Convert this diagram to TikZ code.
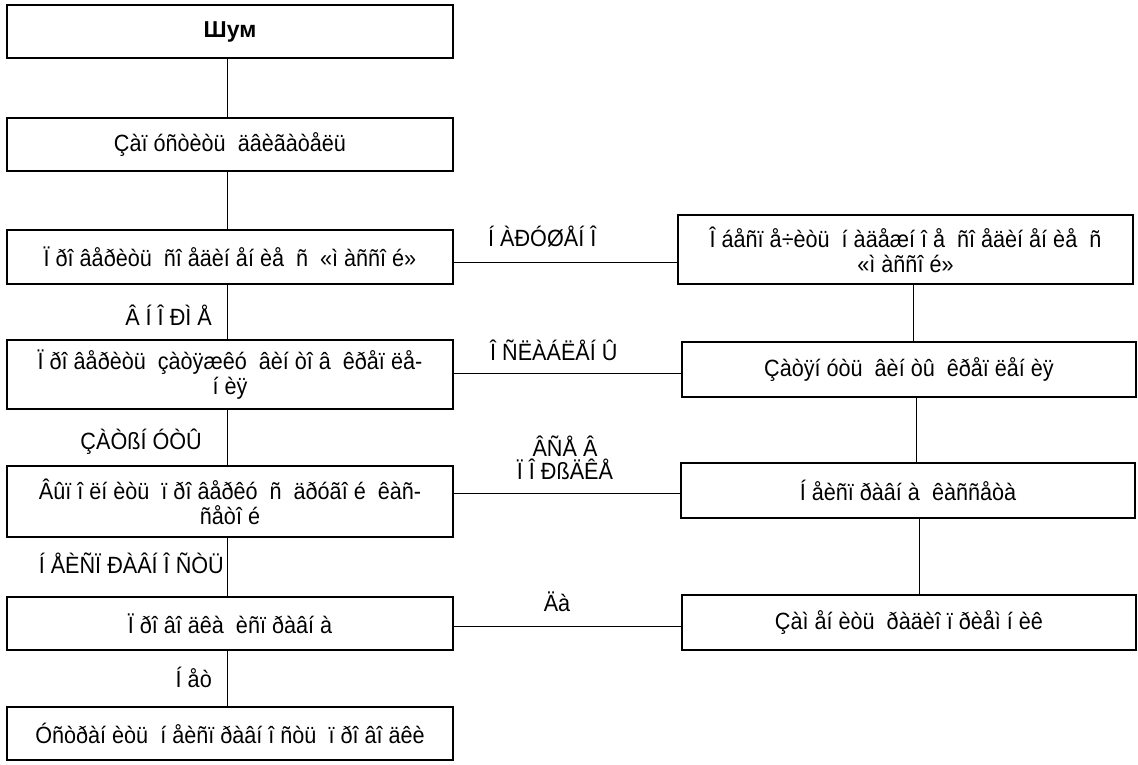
\documentclass[tikz,border=0pt]{standalone}
\usepackage{fontspec}
\setmainfont{Liberation Sans}[FakeStretch=0.92]
\newfontfamily\headfont{Liberation Sans}

\begin{document}
\begin{tikzpicture}[x=1pt,y=-1pt,
    box/.style={draw,line width=1.3pt,align=center,inner sep=0pt,
        font=\fontsize{23.5}{25}\selectfont},
    lbl/.style={font=\fontsize{23.5}{23}\selectfont,align=center,inner sep=0pt},
    link/.style={line width=1pt}]
    \useasboundingbox (0,0) rectangle (1138,764);
    % left column
    \node[box,minimum width=446,minimum height=53] (shum) at (230,31.5) {\headfont\bfseries\fontsize{23}{25}\selectfont Шум};
    \node[box,minimum width=446,minimum height=53] (start) at (230,144.5) {Çàï óñòèòü~ äâèãàòåëü};
    \node[box,minimum width=446,minimum height=54] (mass) at (230,257) {Ï ðî âåðèòü~ ñî åäèí åí èå~ ñ~ «ì àññî é»};
    \node[box,minimum width=446,minimum height=69] (vint) at (230,374.5) {Ï ðî âåðèòü~ çàòÿæêó~ âèí òî â~ êðåï ëå-\\í èÿ};
    \node[box,minimum width=446,minimum height=71] (kass) at (230,501.5) {Âûï î ëí èòü~ ï ðî âåðêó~ ñ~ äðóãî é~ êàñ-\\ñåòî é};
    \node[box,minimum width=446,minimum height=53] (prov) at (230,623.5) {Ï ðî âî äêà~ èñï ðàâí à};
    \node[box,minimum width=446,minimum height=53] (fix) at (230,733.5) {Óñòðàí èòü~ í åèñï ðàâí î ñòü~ ï ðî âî äêè};
    % right column
    \node[box,minimum width=455,minimum height=69] (secure) at (905.5,249.5) {Î áåñï å÷èòü~ í àäåæí î å~ ñî åäèí åí èå~ ñ\\«ì àññî é»};
    \node[box,minimum width=454,minimum height=55] (tight) at (909,369.5) {Çàòÿí óòü~ âèí òû~ êðåï ëåí èÿ};
    \node[box,minimum width=454,minimum height=55] (bad) at (908,490.5) {Í åèñï ðàâí à~ êàññåòà};
    \node[box,minimum width=454,minimum height=55] (radio) at (909,622.5) {Çàì åí èòü~ ðàäèî ï ðèåì í èê};
    % labels
    \node[lbl,anchor=east] (lnorm) at (212,315) {Â Í Î ÐÌ Å};
    \node[lbl,anchor=east] (lzat) at (202,442) {ÇÀÒßÍ ÓÒÛ};
    \node[lbl,anchor=east] (lneisp) at (224,563) {Í ÅÈÑÏ ÐÀÂÍ Î ÑÒÜ};
    \node[lbl,anchor=east] (lnet) at (212,677) {Í åò};
    \node[lbl,anchor=west] (lnar) at (488,237) {Í ÀÐÓØÅÍ Î};
    \node[lbl,anchor=west] (losl) at (490,350) {Î ÑËÀÁËÅÍ Û};
    \node[lbl] (lvse) at (565,458) {ÂÑÅ Â\\Ï Î ÐßÄÊÅ};
    \node[lbl] (lda) at (557,602) {Äà};
    % links
    \draw[link] ([xshift=-3pt]shum.south) -- ([xshift=-3pt]start.north);
    \draw[link] ([xshift=-3pt]start.south) -- ([xshift=-3pt]mass.north);
    \draw[link] ([xshift=-3pt]mass.south) -- ([xshift=-3pt]vint.north);
    \draw[link] ([xshift=-3pt]vint.south) -- ([xshift=-3pt]kass.north);
    \draw[link] ([xshift=-3pt]kass.south) -- ([xshift=-3pt]prov.north);
    \draw[link] ([xshift=-3pt]prov.south) -- ([xshift=-3pt]fix.north);
    \draw[link] ([yshift=-5pt]mass.east) -- ([yshift=-5pt]mass.east -| secure.west);
    \draw[link] ([yshift=1.5pt]vint.east) -- ([yshift=1.5pt]vint.east -| tight.west);
    \draw[link] ([yshift=8.5pt]kass.east) -- ([yshift=8.5pt]kass.east -| bad.west);
    \draw[link] ([yshift=-2.5pt]prov.east) -- ([yshift=-2.5pt]prov.east -| radio.west);
    \draw[link] ([xshift=7.5pt]secure.south) -- ([xshift=4pt]tight.north);
    \draw[link] ([xshift=7pt]tight.south) -- ([xshift=8pt]bad.north);
    \draw[link] ([xshift=11pt]bad.south) -- ([xshift=10pt]radio.north);
\end{tikzpicture}
\end{document}
